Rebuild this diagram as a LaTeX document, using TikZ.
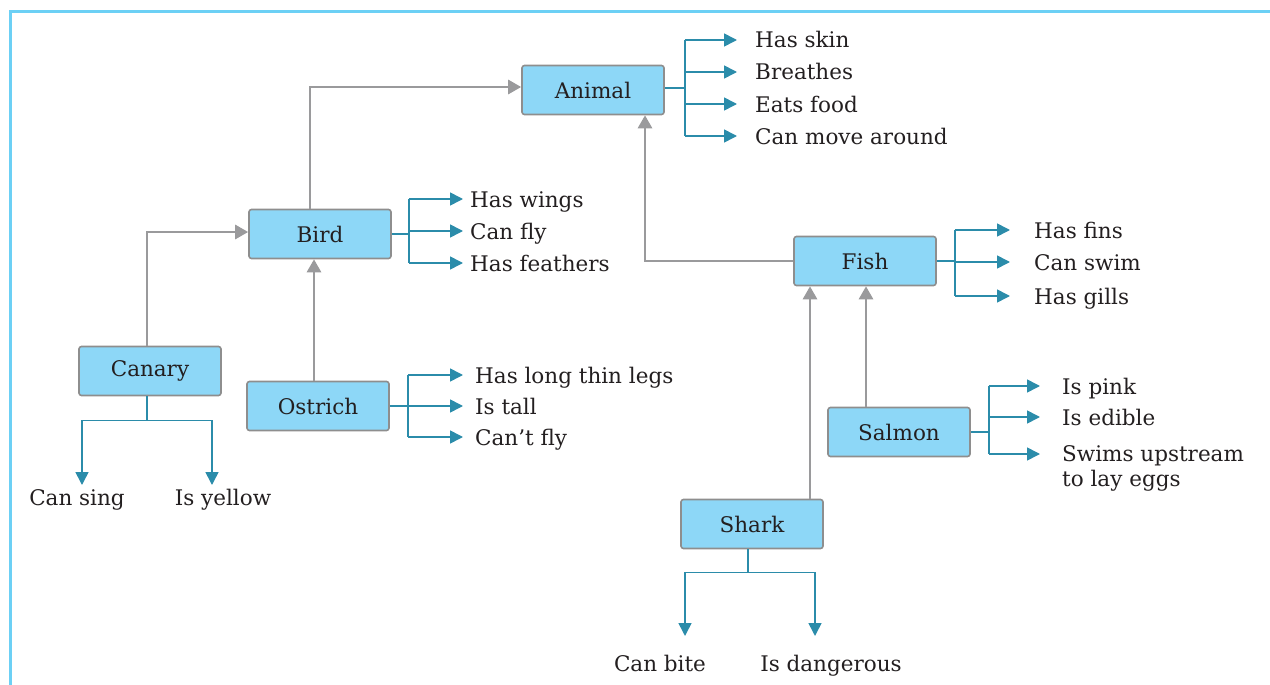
\documentclass[tikz,border=0pt]{standalone}
\usepackage{fontspec}
\setmainfont{DejaVu Serif}
\usetikzlibrary{arrows.meta}

\definecolor{frameblue}{HTML}{6CD0F5}
\definecolor{boxblue}{HTML}{8DD7F7}
\definecolor{boxgray}{HTML}{8E8E8E}
\definecolor{linkgray}{HTML}{9A9A9C}
\definecolor{featteal}{HTML}{2B8CAA}
\definecolor{ink}{HTML}{231F20}

\begin{document}
\begin{tikzpicture}[x=1pt, y=-1pt,
    box/.style={draw=boxgray, fill=boxblue, rounded corners=2.5pt, line width=1.6pt,
      minimum width=142pt, minimum height=49pt, text=ink, font=\fontsize{21.5}{25}\selectfont},
    link/.style={draw=linkgray, line width=2.8pt, -{Triangle[length=13pt,width=14pt]}},
    feat/.style={draw=featteal, line width=1.6pt},
    featarr/.style={feat, -{Triangle[length=13pt,width=13pt]}},
    prop/.style={anchor=west, inner sep=0pt, text height=16pt, text depth=0pt,
      text=ink, font=\fontsize{21.5}{25}\selectfont}]
  \useasboundingbox (0,0) rectangle (1270,685);

  % frame
  \draw [frameblue, line width=3pt] (10,685) -- (10,12) -- (1270,12);

  % classes
  \node [box] (anml) at (593,90) {Animal};
  \node [box] (bird) at (320,234) {Bird};
  \node [box] (cnry) at (150,371) {Canary};
  \node [box] (ostr) at (318,406) {Ostrich};
  \node [box] (fish) at (865,261) {Fish};
  \node [box] (slmn) at (899,432) {Salmon};
  \node [box] (shrk) at (752,524) {Shark};

  % is-a links
  \draw [link] ([xshift=-10pt]bird.north) |- ([yshift=3pt]anml.west);
  \draw [link] ([xshift=-3pt]cnry.north) |- ([yshift=2pt]bird.west);
  \draw [link] ([xshift=-4pt]ostr.north) -- ([xshift=-4pt]ostr.north |- bird.south);
  \draw [link] (fish.west) -| ([xshift=52pt]anml.south);
  \draw [link] ([xshift=58pt]shrk.north) -- ([xshift=58pt]shrk.north |- fish.south);
  \draw [link] ([xshift=-33pt]slmn.north) -- ([xshift=-33pt]slmn.north |- fish.south);

  % animal
  \node [prop] (skin) at (755,40) {Has skin};
  \node [prop] (brth) at (755,72) {Breathes};
  \node [prop] (food) at (755,104) {Eats food};
  \node [prop] (move) at (755,136) {Can move around};
  \draw [feat, line width=2.4pt] ([yshift=2pt]anml.east) -- ++(20,0) coordinate (aj);
  \draw [feat] (aj |- skin.west) -- (aj |- move.west);
  \foreach \p in {skin,brth,food,move}
    \draw [featarr] (aj |- \p.west) -- ([xshift=-18pt]\p.west);

  % bird
  \node [prop] (wing) at (470,199) {Has wings};
  \node [prop] (flys) at (470,231) {Can fly};
  \node [prop] (fthr) at (470,263) {Has feathers};
  \draw [feat] (bird.east) -- ++(17,0) coordinate (bj);
  \draw [feat] (bj |- wing.west) -- (bj |- fthr.west);
  \foreach \p in {wing,flys,fthr}
    \draw [featarr] (bj |- \p.west) -- ([xshift=-7pt]\p.west);

  % fish
  \node [prop] (fins) at (1034,230) {Has fins};
  \node [prop] (swim) at (1034,262) {Can swim};
  \node [prop] (gill) at (1034,296) {Has gills};
  \draw [feat] (fish.east) -- ++(18,0) coordinate (fj);
  \draw [feat] (fj |- fins.west) -- (fj |- gill.west);
  \foreach \p in {fins,swim,gill}
    \draw [featarr] (fj |- \p.west) -- ([xshift=-24pt]\p.west);

  % ostrich
  \node [prop] (legs) at (475,375) {Has long thin legs};
  \node [prop] (tall) at (475,406) {Is tall};
  \node [prop] (nfly) at (475,437) {Can't fly};
  \draw [feat] (ostr.east) -- ++(18,0) coordinate (oj);
  \draw [feat] (oj |- legs.west) -- (oj |- nfly.west);
  \foreach \p in {legs,tall,nfly}
    \draw [featarr] (oj |- \p.west) -- ([xshift=-12pt]\p.west);

  % salmon
  \node [prop] (pink) at (1062,386) {Is pink};
  \node [prop] (edbl) at (1062,417) {Is edible};
  \node [prop, anchor=north west, text height=, text depth=, align=left] (upst) at (1062,445)
    {Swims upstream\\to lay eggs};
  \coordinate (upin) at (1062,454);
  \draw [feat] (slmn.east) -- ++(18,0) coordinate (sj);
  \draw [feat] (sj |- pink.west) -- (sj |- upin);
  \foreach \p in {pink,edbl,upin}
    \draw [featarr] (sj |- \p) -- ([xshift=-22pt]\p.west);

  % canary
  \node [prop, anchor=center] (sing) at (77,497) {Can sing};
  \node [prop, anchor=center] (yelw) at (223,497) {Is yellow};
  \coordinate (singtip) at (82,485);
  \coordinate (yelwtip) at (212,485);
  \draw [feat] ([xshift=-3pt]cnry.south) -- ++(0,24) coordinate (cj);
  \draw [feat] (singtip |- cj) -- (yelwtip |- cj);
  \draw [featarr] (singtip |- cj) -- (singtip);
  \draw [featarr] (yelwtip |- cj) -- (yelwtip);

  % shark
  \node [prop, anchor=center] (bite) at (660,663) {Can bite};
  \node [prop, anchor=center] (dngr) at (831,663) {Is dangerous};
  \coordinate (bitetip) at (685,636);
  \coordinate (dngrtip) at (815,636);
  \draw [feat] ([xshift=-4pt]shrk.south) -- ++(0,23) coordinate (kj);
  \draw [feat] (bitetip |- kj) -- (dngrtip |- kj);
  \draw [featarr] (bitetip |- kj) -- (bitetip);
  \draw [featarr] (dngrtip |- kj) -- (dngrtip);
\end{tikzpicture}
\end{document}
